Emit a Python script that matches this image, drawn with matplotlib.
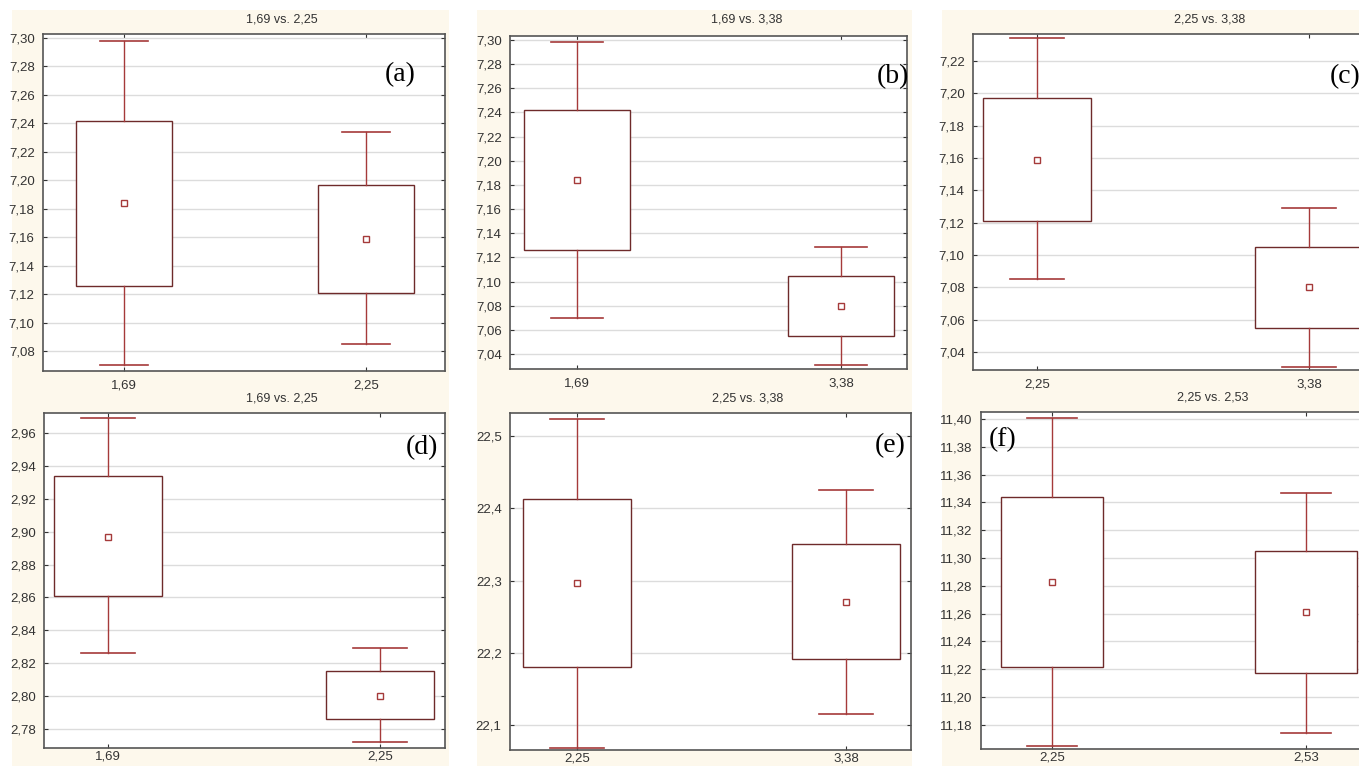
import numpy as np
import matplotlib
matplotlib.use("Agg")
import matplotlib.pyplot as plt
from matplotlib.patches import Rectangle
from matplotlib.ticker import FuncFormatter, MultipleLocator

plt.rcParams['font.family'] = ['Liberation Sans', 'DejaVu Sans']

# ---- data ----
titles = ["1,69 vs. 2,25", "1,69 vs. 3,38", "2,25 vs. 3,38",
          "1,69 vs. 2,25", "2,25 vs. 3,38", "2,25 vs. 2,53"]
panel_tags = ["(a)", "(b)", "(c)", "(d)", "(e)", "(f)"]
categories = [["1,69", "2,25"], ["1,69", "3,38"], ["2,25", "3,38"],
              ["1,69", "2,25"], ["2,25", "3,38"], ["2,25", "2,53"]]

# per group: (whisker low, q1, mean, q3, whisker high)
whisk_lo = [[7.070, 7.085], [7.070, 7.031], [7.085, 7.031],
            [2.826, 2.772], [22.068, 22.115], [11.165, 11.174]]
box_lo = [[7.126, 7.121], [7.126, 7.055], [7.121, 7.055],
          [2.861, 2.786], [22.180, 22.192], [11.222, 11.217]]
means = [[7.184, 7.159], [7.184, 7.080], [7.159, 7.080],
         [2.897, 2.800], [22.296, 22.270], [11.283, 11.261]]
box_hi = [[7.242, 7.197], [7.242, 7.105], [7.197, 7.105],
          [2.934, 2.815], [22.413, 22.350], [11.344, 11.305]]
whisk_hi = [[7.298, 7.234], [7.298, 7.129], [7.234, 7.129],
            [2.969, 2.829], [22.524, 22.425], [11.401, 11.347]]

# ---- layout (pixels) ----
W, H = 1359, 766
# axes left, top, right, bottom, tick1 x, tick2 x
boxes_px = [(43, 34, 445, 371, 124, 366),
            (510, 36, 907, 369, 577, 841),
            (973, 34, 1377, 370, 1037, 1309),
            (44, 413, 445, 748, 108, 380),
            (510, 413, 911, 750, 577, 846),
            (981, 412, 1385, 749, 1052, 1306)]
ylims = [(7.066, 7.3028), (7.0276, 7.3033), (7.0289, 7.2367),
         (2.7684, 2.9722), (22.0654, 22.532), (11.1627, 11.405)]
ysteps = [0.02, 0.02, 0.02, 0.02, 0.1, 0.02]
ydec = [2, 2, 2, 2, 1, 2]
xpads = [6, 6, 6, 2, 1.5, 1.5]
title_xy = [(282, 19), (747, 20), (1210, 19), (282, 398), (748, 398), (1213, 397)]
tag_xy = [(400, 75), (893, 77), (1345, 77), (422, 448), (890, 446), (1003, 440)]

cream = "#fdf8ec"
box_col = "#6e2a2a"
whisk_col = "#a53a3a"

fig = plt.figure(figsize=(W / 100, H / 100), dpi=100)
fig.patch.set_facecolor("white")
for x0, x1 in [(12, 449), (477, 912), (942, 1359)]:
    fig.patches.append(Rectangle((x0 / W, 0), (x1 - x0) / W, 1 - 10 / H,
                                 transform=fig.transFigure, facecolor=cream,
                                 edgecolor="none", zorder=-10))

for i in range(6):
    L, T, R, B, t1, t2 = boxes_px[i]
    ax = fig.add_axes([L / W, 1 - B / H, (R - L) / W, (B - T) / H])
    unit = t2 - t1
    stats = []
    for j in range(2):
        stats.append(dict(whislo=whisk_lo[i][j], q1=box_lo[i][j], med=means[i][j],
                          q3=box_hi[i][j], whishi=whisk_hi[i][j], mean=means[i][j],
                          fliers=[]))
    ax.bxp(stats, positions=[0, 1], widths=0.4, capwidths=0.2, showmeans=True,
           showfliers=False, patch_artist=True,
           boxprops=dict(facecolor="white", edgecolor=box_col, linewidth=1.0),
           whiskerprops=dict(color=whisk_col, linewidth=1.0),
           capprops=dict(color=whisk_col, linewidth=1.2),
           medianprops=dict(linewidth=0),
           meanprops=dict(marker="s", markersize=4, markerfacecolor="white",
                          markeredgecolor=whisk_col, markeredgewidth=1.0))
    ax.set_xlim((L - t1) / unit, (R - t1) / unit)
    ax.set_ylim(*ylims[i])
    ax.set_xticks([0, 1])
    ax.set_xticklabels(categories[i])
    ax.yaxis.set_major_locator(MultipleLocator(ysteps[i]))
    d = ydec[i]
    ax.yaxis.set_major_formatter(FuncFormatter(lambda v, p, d=d: f"{v:.{d}f}".replace(".", ",")))
    ax.grid(axis="y", color="#dcdcdc", linewidth=1.0)
    ax.set_axisbelow(True)
    ax.tick_params(axis="both", labelsize=9.5, colors="#333333", direction="in",
                   length=3, top=True, right=True)
    ax.tick_params(axis="x", pad=xpads[i])
    ax.tick_params(axis="y", pad=6)
    for s in ax.spines.values():
        s.set_color("#555555")
        s.set_linewidth(1.2)
    fig.text(title_xy[i][0] / W, 1 - title_xy[i][1] / H, titles[i],
             ha="center", va="center", fontsize=9, color="#333333")
    fig.text(tag_xy[i][0] / W, 1 - tag_xy[i][1] / H, panel_tags[i],
             ha="center", va="center", fontsize=20, family="Liberation Serif")

fig.savefig("out.png", dpi=100)
